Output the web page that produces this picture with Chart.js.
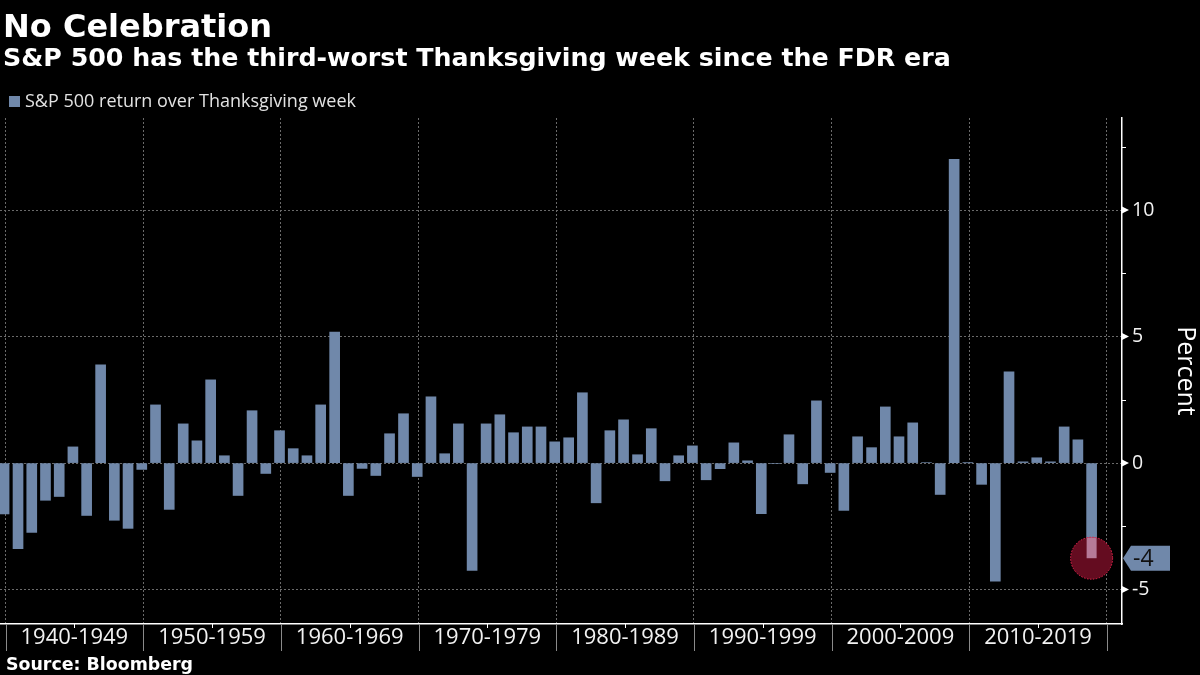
<!DOCTYPE html>
<html>
<head>
<meta charset="utf-8">
<script src="https://cdn.jsdelivr.net/npm/chart.js@4/dist/chart.umd.min.js"></script>
<style>
  html, body { margin: 0; padding: 0; background: #000; }
  body { width: 1200px; height: 675px; position: relative; overflow: hidden; }
  #c { position: absolute; left: 0; top: 0; }
  .t { position: absolute; white-space: nowrap; color: #fff; }
  #title { left: 3px; top: 9.5px; font: bold 32px/32px "DejaVu Sans"; }
  #subtitle { left: 3px; top: 45px; font: bold 25.3px/25.3px "DejaVu Sans"; }
  #legend { left: 9px; top: 91px; font: 18px/18px "Open Sans"; color: #e2e2e2; }
  #legend .sw { display: inline-block; width: 11px; height: 11px; background: #7088aa; margin-right: 5px; vertical-align: 0px; }
  #source { left: 6px; top: 656px; font: bold 17.4px/17.4px "DejaVu Sans"; }
</style>
</head>
<body>
<canvas id="c" width="1200" height="675"></canvas>
<div class="t" id="title">No Celebration</div>
<div class="t" id="subtitle">S&amp;P 500 has the third-worst Thanksgiving week since the FDR era</div>
<div class="t" id="legend"><span class="sw"></span>S&amp;P 500 return over Thanksgiving week</div>
<div class="t" id="source">Source: Bloomberg</div>
<script>
// ---- data ----
const years = [
  1939,1940,1941,1942,1943,1944,1945,1946,1947,1948,
  1949,1950,1951,1952,1953,1954,1955,1956,1957,1958,
  1959,1960,1961,1962,1963,1964,1965,1966,1967,1968,
  1969,1970,1971,1972,1973,1974,1975,1976,1977,1978,
  1979,1980,1981,1982,1983,1984,1985,1986,1987,1988,
  1989,1990,1991,1992,1993,1994,1995,1996,1997,1998,
  1999,2000,2001,2002,2003,2004,2005,2006,2007,2008,
  2009,2010,2011,2012,2013,2014,2015,2016,2017,2018
];
const returnsPct = [
  -2.01,-3.38,-2.74,-1.47,-1.32, 0.64,-2.07, 3.88,-2.26,-2.58,
  -0.25, 2.30,-1.83, 1.55, 0.88, 3.29, 0.29,-1.28, 2.07,-0.41,
   1.28, 0.57, 0.29, 2.30, 5.18,-1.28,-0.21,-0.49, 1.16, 1.95,
  -0.53, 2.62, 0.37, 1.55,-4.24, 1.55, 1.91, 1.20, 1.43, 1.43,
   0.84, 1.00, 2.78,-1.57, 1.28, 1.71, 0.33, 1.36,-0.70, 0.29,
   0.68,-0.66,-0.22, 0.80, 0.09,-2.00,-0.02, 1.12,-0.82, 2.46,
  -0.37,-1.87, 1.04, 0.61, 2.22, 1.04, 1.59, 0.02,-1.24,12.01,
   0.01,-0.84,-4.67, 3.61, 0.05, 0.21, 0.05, 1.43, 0.92,-3.76
];
const decadeStarts = [1940,1950,1960,1970,1980,1990,2000,2010,2020];
const decadeLabels = ['1940-1949','1950-1959','1960-1969','1970-1979','1980-1989','1990-1999','2000-2009','2010-2019'];
const yTickValues = [-5,-2.5,0,2.5,5,7.5,10,12.5];
const yMajorLabels = ['-5','0','5','10'];
const highlightYear = 2018;

// Thanksgiving-week Friday as a fraction of the year (time position of each weekly bar)
function weekPosition(year) {
  const d = new Date(Date.UTC(year, 10, 1)).getUTCDay();
  const firstThu = 1 + ((4 - d + 7) % 7);
  const fri = firstThu + 21 + 1;
  const doy = (Date.UTC(year, 10, fri) - Date.UTC(year, 0, 1)) / 864e5;
  const len = (Date.UTC(year + 1, 0, 1) - Date.UTC(year, 0, 1)) / 864e5;
  return year + doy / len;
}
const points = years.map((yr, i) => ({ x: weekPosition(yr), y: returnsPct[i] }));

const xTickValues = [];
decadeStarts.forEach((d, i) => { xTickValues.push(d); if (i < decadeLabels.length) xTickValues.push(d + 5); });

const BAR = '#7088aa';
const GRID = '#6a6a6a';

const decor = {
  id: 'decor',
  afterDatasetsDraw(chart) {
    const ctx = chart.ctx;
    const idx = years.indexOf(highlightYear);
    const bar = chart.getDatasetMeta(0).data[idx];
    const r = 21;
    ctx.save();
    ctx.beginPath();
    ctx.arc(bar.x, bar.y, r, 0, Math.PI * 2);
    ctx.fillStyle = '#640c20';
    ctx.fill();
    ctx.clip();
    ctx.fillStyle = '#b67a98';
    const top = Math.min(bar.y, bar.base), bot = Math.max(bar.y, bar.base);
    ctx.fillRect(bar.x - bar.width / 2, top, bar.width, bot - top);
    ctx.restore();
    ctx.save();
    ctx.beginPath();
    ctx.arc(bar.x, bar.y, r, 0, Math.PI * 2);
    ctx.setLineDash([1.5, 1.5]);
    ctx.lineWidth = 1;
    ctx.strokeStyle = '#e8264f';
    ctx.stroke();
    ctx.restore();
  },
  afterDraw(chart) {
    const ctx = chart.ctx;
    const xs = chart.scales.x, ys = chart.scales.y;
    const area = chart.chartArea;
    ctx.save();
    // x tick marks
    xTickValues.forEach(v => {
      const px = Math.round(xs.getPixelForValue(v)) + 0.5;
      ctx.beginPath();
      if (v % 10 === 0) {
        ctx.strokeStyle = '#8a8a8a';
        ctx.lineWidth = 1;
        ctx.moveTo(px, area.bottom);
        ctx.lineTo(px, area.bottom + 27);
      } else {
        ctx.strokeStyle = '#ffffff';
        ctx.lineWidth = 1;
        ctx.moveTo(px, area.bottom);
        ctx.lineTo(px, area.bottom + 4);
      }
      ctx.stroke();
    });
    // y tick marks
    yTickValues.forEach(v => {
      const py = ys.getPixelForValue(v);
      const x0 = area.right;
      ctx.fillStyle = '#ffffff';
      ctx.strokeStyle = '#ffffff';
      if (v % 5 === 0) {
        ctx.beginPath();
        ctx.moveTo(x0, py - 3.5);
        ctx.lineTo(x0 + 7, py);
        ctx.lineTo(x0, py + 3.5);
        ctx.closePath();
        ctx.fill();
      } else {
        ctx.beginPath();
        ctx.lineWidth = 1;
        ctx.moveTo(x0, Math.round(py) + 0.5);
        ctx.lineTo(x0 + 4, Math.round(py) + 0.5);
        ctx.stroke();
      }
    });
    // value tag for the highlighted bar
    const idx = years.indexOf(highlightYear);
    const val = returnsPct[idx];
    const ty = ys.getPixelForValue(val);
    const tx = area.right + 1;
    ctx.beginPath();
    ctx.moveTo(tx, ty);
    ctx.lineTo(tx + 8, ty - 12.5);
    ctx.lineTo(tx + 47, ty - 12.5);
    ctx.lineTo(tx + 47, ty + 12.5);
    ctx.lineTo(tx + 8, ty + 12.5);
    ctx.closePath();
    ctx.fillStyle = BAR;
    ctx.fill();
    ctx.fillStyle = '#111';
    ctx.font = '23px "Open Sans"';
    ctx.textBaseline = 'middle';
    ctx.textAlign = 'left';
    ctx.fillText(String(Math.round(val)), tx + 10, ty + 1);
    ctx.restore();
  }
};

new Chart(document.getElementById('c'), {
  type: 'bar',
  data: {
    datasets: [{
      label: 'S&P 500 return over Thanksgiving week',
      data: points,
      backgroundColor: BAR,
      borderWidth: 0,
      barThickness: 10
    }]
  },
  options: {
    responsive: false,
    animation: false,
    devicePixelRatio: 1,
    layout: { padding: { top: 118, left: 0, right: 0, bottom: 0 } },
    plugins: { legend: { display: false }, tooltip: { enabled: false }, title: { display: false } },
    scales: {
      x: {
        type: 'linear',
        offset: false,
        min: 1939.6,
        max: 2021.1,
        afterBuildTicks: s => { s.ticks = xTickValues.map(v => ({ value: v })); },
        afterFit: s => { s.height = 51; },
        ticks: {
          autoSkip: false,
          maxRotation: 0,
          color: '#f2f2f2',
          font: { family: 'Open Sans', size: 22 },
          padding: 1,
          callback: (v) => {
            const i = decadeStarts.indexOf(v - 5);
            return i >= 0 ? decadeLabels[i] : '';
          }
        },
        grid: {
          offset: false,
          drawTicks: false,
          tickLength: 0,
          color: c => (c.tick && c.tick.value % 10 === 0) ? GRID : 'rgba(0,0,0,0)',
          lineWidth: 1
        },
        border: { display: true, color: '#ffffff', width: 1.5, dash: c => (c.type === 'tick' ? [2, 2] : []) }
      },
      y: {
        position: 'right',
        min: -6.36,
        max: 13.64,
        afterBuildTicks: s => { s.ticks = yTickValues.map(v => ({ value: v })); },
        afterFit: s => { s.width = 78; },
        ticks: {
          color: '#f2f2f2',
          font: { family: 'Open Sans', size: 19.5 },
          padding: 10,
          callback: v => (yMajorLabels.indexOf(String(v)) >= 0 ? String(v) : '')
        },
        grid: {
          drawTicks: false,
          tickLength: 0,
          color: c => (c.tick && c.tick.value % 5 === 0) ? GRID : 'rgba(0,0,0,0)',
          lineWidth: 1
        },
        border: { display: true, color: '#ffffff', width: 1.5, dash: c => (c.type === 'tick' ? [2, 2] : []) },
        title: {
          display: true,
          text: 'Percent',
          color: '#ffffff',
          font: { family: 'Open Sans', size: 25 },
          padding: { top: 0, bottom: 4 }
        }
      }
    }
  },
  plugins: [decor]
});
</script>
</body>
</html>
